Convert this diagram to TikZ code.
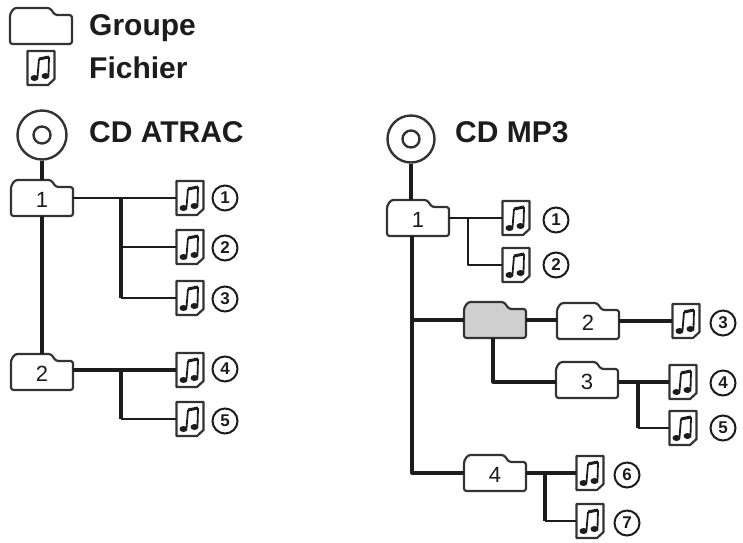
\documentclass[tikz,border=0pt]{standalone}
\usepackage{fontspec}
\setmainfont{Liberation Sans}
\definecolor{ink}{HTML}{1C1C1C}
\definecolor{greyfolder}{HTML}{CFCFCF}
\tikzset{
  title/.style={anchor=base west,inner sep=0pt,font=\fontsize{30}{30}\selectfont\bfseries,text=ink},
  folderbox/.style={minimum width=62,minimum height=36,inner sep=0pt,font=\fontsize{22}{22}\selectfont,text=ink},
  filebox/.style={minimum width=27,minimum height=34,inner sep=0pt},
  numcircle/.style={circle,draw=ink,line width=2pt,minimum size=25,inner sep=0pt,font=\fontsize{17}{17}\selectfont\bfseries,text=ink},
  outline/.style={draw=ink!90,line width=2.2pt,line join=round},
  heavy/.style={draw=ink,line width=3.2pt,line join=round},
  light/.style={draw=ink,line width=2.2pt,line join=round},
}
% name, x, y, label, fill
\newcommand{\folderat}[5]{%
  \begin{scope}[shift={(#2,#3)}]
    \path[outline,fill=#5,rounded corners=2.5pt]
      (-31,18) -- (-31,-12) -- (-27,-18) -- (9,-18) -- (14,-11) -- (31,-11) -- (31,18) -- cycle;
  \end{scope}
  \node[folderbox] (#1) at (#2,#3+2) {#4};
}
% name, x, y
\newcommand{\fileat}[3]{%
  \node[filebox] (#1) at (#2,#3) {};
  \begin{scope}[shift={(#2,#3)}]
    \path[outline,fill=white] (-13.5,-17) -- (13.5,-17) -- (13.5,11) -- (7,17) -- (-13.5,17) -- cycle;
    \path[fill=ink] (-6.5,10) ellipse [x radius=4,y radius=3];
    \path[fill=ink] (4.5,8) ellipse [x radius=4,y radius=3];
    \path[draw=ink,line width=1.8pt] (-3.5,9) -- (-2,-9);
    \path[draw=ink,line width=1.8pt] (7.5,7) -- (8,-11);
    \path[draw=ink,line width=3pt] (-2,-9) -- (8,-11);
  \end{scope}
}
\begin{document}
\begin{tikzpicture}[x=1pt,y=-1pt]
\useasboundingbox (0,0) rectangle (743,542);
% legend
\folderat{legfolder}{41}{26}{}{white}
\fileat{legfile}{41}{68}
\node[title] (tg) at (89,35) {Groupe};
\node[title] (tf) at (89,78) {Fichier};
% CD ATRAC
\node[title] (ta) at (89,142) {CD ATRAC};
\node[circle,draw=ink!90,line width=2.4pt,minimum size=49,inner sep=0pt] (cda) at (42,135) {};
\node[circle,draw=ink!90,line width=2.4pt,minimum size=17,inner sep=0pt] (cdai) at (42,135) {};
\folderat{a1}{42}{198}{1}{white}
\folderat{a2}{42}{372}{2}{white}
\coordinate (a1top) at (42,180);
\coordinate (a2top) at (42,354);
\coordinate (a1bot) at (42,216);
\fileat{af1}{190}{198}
\fileat{af2}{190}{247}
\fileat{af3}{190}{298}
\fileat{af4}{190}{370}
\fileat{af5}{190}{419}
\node[numcircle] (an1) at (225,198) {1};
\node[numcircle] (an2) at (225,248) {2};
\node[numcircle] (an3) at (225,299) {3};
\node[numcircle] (an4) at (225,369) {4};
\node[numcircle] (an5) at (225,421) {5};
\draw[heavy] (cda) -- (a1top);
\draw[heavy] (a1bot) -- (a2top);
\coordinate (ab1) at (121,198);
\coordinate (ab2) at (121,370);
\draw[light] (a1.east |- ab1) -- (af1.west);
\draw[heavy] (ab1) -- (ab1 |- af3.west);
\draw[light] (ab1 |- af3.west) -- (af3.west);
\draw[light] (ab1 |- af2.west) -- (af2.west);
\draw[heavy] (a2.east |- ab2) -- (af4.west);
\draw[heavy] (ab2) -- (ab2 |- af5.west);
\draw[light] (ab2 |- af5.west) -- (af5.west);
% CD MP3
\node[title] (tm) at (455,142) {CD MP3};
\node[circle,draw=ink!90,line width=2.4pt,minimum size=47,inner sep=0pt] (cdm) at (411,139) {};
\node[circle,draw=ink!90,line width=2.4pt,minimum size=17,inner sep=0pt] (cdmi) at (411,139) {};
\folderat{m1}{418}{218}{1}{white}
\folderat{mg}{495}{320}{}{greyfolder}
\folderat{m2}{588}{321}{2}{white}
\folderat{m3}{587}{380}{3}{white}
\folderat{m4}{495}{473}{4}{white}
\coordinate (m1top) at (411,200);
\coordinate (m1bot) at (412,236);
\coordinate (mgbot) at (493,338);
\fileat{mf1}{516}{218}
\fileat{mf2}{516}{265}
\fileat{mf3}{686}{321}
\fileat{mf4}{683}{382}
\fileat{mf5}{683}{428}
\fileat{mf6}{590}{473}
\fileat{mf7}{590}{521}
\node[numcircle] (mn1) at (556,220) {1};
\node[numcircle] (mn2) at (556,265) {2};
\node[numcircle] (mn3) at (723,323) {3};
\node[numcircle] (mn4) at (723,383) {4};
\node[numcircle] (mn5) at (723,428) {5};
\node[numcircle] (mn6) at (627,475) {6};
\node[numcircle] (mn7) at (627,523) {7};
\coordinate (mtrunk) at (412,320);
\coordinate (mb1) at (468,218);
\coordinate (mb3) at (638,382);
\coordinate (mb4) at (545,473);
\draw[heavy] (cdm) -- (m1top);
\draw[heavy] (m1bot) -- (m1bot |- mb4) -- (m4.west |- mb4);
\draw[heavy] (mtrunk) -- (mg.west |- mtrunk);
\draw[light] (m1.east |- mb1) -- (mf1.west);
\draw[light] (mb1) -- (mb1 |- mf2.west) -- (mf2.west);
\draw[heavy] (mg.east |- mtrunk) -- (m2.west |- mtrunk);
\draw[heavy] (m2.east |- mf3.west) -- (mf3.west);
\draw[heavy] (mgbot) -- (mgbot |- mb3) -- (m3.west |- mb3);
\draw[heavy] (m3.east |- mb3) -- (mf4.west);
\draw[heavy] (mb3) -- (mb3 |- mf5.west);
\draw[light] (mb3 |- mf5.west) -- (mf5.west);
\draw[heavy] (m4.east |- mb4) -- (mf6.west);
\draw[heavy] (mb4) -- (mb4 |- mf7.west);
\draw[light] (mb4 |- mf7.west) -- (mf7.west);
\end{tikzpicture}
\end{document}
